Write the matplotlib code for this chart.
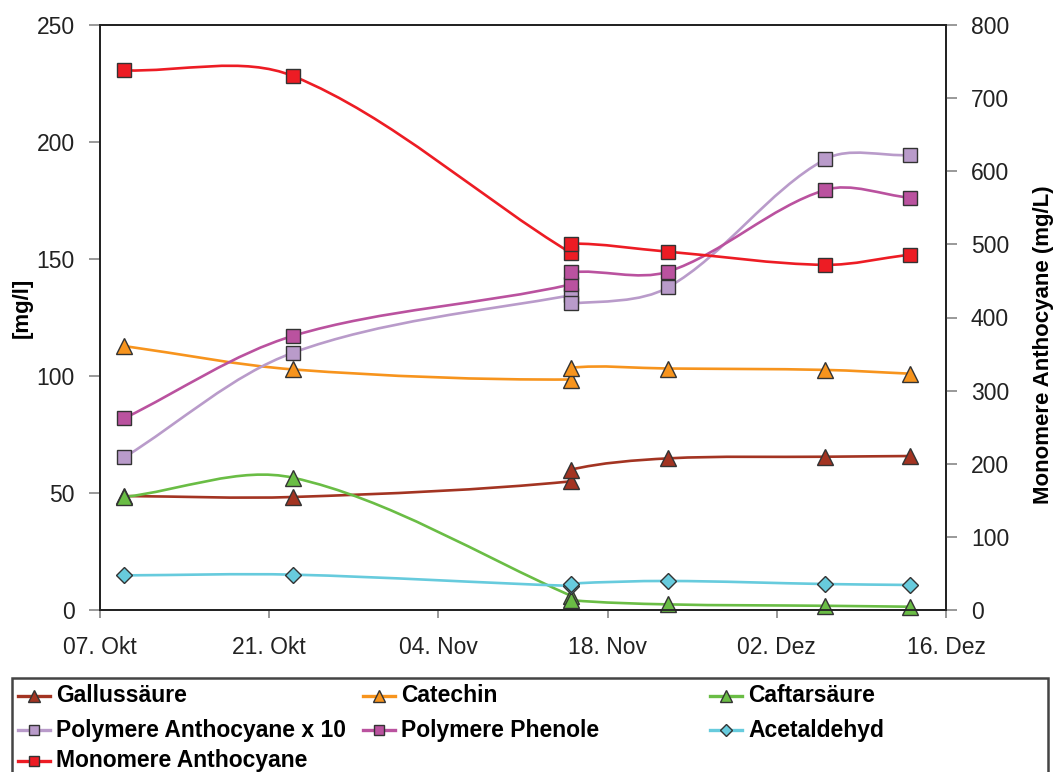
import numpy as np
import matplotlib
matplotlib.use("Agg")
import matplotlib.pyplot as plt
import matplotlib.dates as mdates
from matplotlib.path import Path
from matplotlib.patches import PathPatch, Rectangle
from matplotlib.lines import Line2D
import datetime as dt

plt.rcParams['font.family'] = ['Liberation Sans', 'DejaVu Sans']

# ------------------ Daten ------------------
dates = ["2008-10-09", "2008-10-23", "2008-11-15", "2008-11-15",
         "2008-11-23", "2008-12-06", "2008-12-13"]

gallussaeure = [48.7, 48.3, 55.0, 60.0, 64.8, 65.5, 65.8]
catechin = [112.8, 102.8, 98.5, 103.5, 103.2, 102.6, 101.0]
caftarsaeure = [48.3, 56.5, 6.0, 4.2, 2.4, 1.8, 1.4]
poly_antho_x10 = [65.2, 110.0, 134.5, 131.0, 137.9, 192.6, 194.4]
poly_phenole = [81.9, 117.2, 139.2, 144.3, 144.6, 179.5, 176.2]
acetaldehyd = [14.8, 15.1, 10.3, 11.3, 12.4, 11.1, 10.7]
monomere = [738, 730, 488, 501, 490, 472, 486]   # rechte Achse (mg/L)

xtick_dates = ["2008-10-07", "2008-10-21", "2008-11-04",
               "2008-11-18", "2008-12-02", "2008-12-16"]
xtick_labels = ["07. Okt", "21. Okt", "04. Nov", "18. Nov", "02. Dez", "16. Dez"]

series = [
    # name, values, color, marker, ms, right axis
    ("Gallussäure", gallussaeure, "#A33422", "^", 11, False),
    ("Catechin", catechin, "#F7941D", "^", 11, False),
    ("Caftarsäure", caftarsaeure, "#6ABD45", "^", 11, False),
    ("Polymere Anthocyane x 10", poly_antho_x10, "#B99BCA", "s", 9.5, False),
    ("Polymere Phenole", poly_phenole, "#BA529F", "s", 9.5, False),
    ("Acetaldehyd", acetaldehyd, "#67CBDD", "D", 8, False),
    ("Monomere Anthocyane", monomere, "#ED1C24", "s", 9.5, True),
]

x = mdates.date2num([dt.datetime.strptime(d, "%Y-%m-%d") for d in dates])
xt = mdates.date2num([dt.datetime.strptime(d, "%Y-%m-%d") for d in xtick_dates])

# ------------------ Figur ------------------
W, H = 1054, 772
fig = plt.figure(figsize=(W / 100, H / 100), dpi=100)
ax = fig.add_axes([100 / W, 1 - 610 / H, 846 / W, 585 / H])
ax2 = ax.twinx()

ax.set_xlim(xt[0], xt[-1])
ax.set_ylim(0, 250)
ax2.set_ylim(0, 800)
ax.set_yticks(np.arange(0, 251, 50))
ax2.set_yticks(np.arange(0, 801, 100))
ax.set_xticks(xt)
ax.set_xticklabels(xtick_labels)

for a in (ax, ax2):
    for s in a.spines.values():
        s.set_color("#222222")
        s.set_linewidth(1.3)
ax.tick_params(axis="y", length=8, width=1.2, color="#888888", pad=10,
               labelsize=16.5, labelcolor="#222222")
ax.tick_params(axis="x", length=6, width=1.2, color="#888888", pad=13,
               labelsize=16.5, labelcolor="#222222")
ax2.tick_params(axis="y", length=8, width=1.2, color="#888888", pad=10,
                labelsize=16.5, labelcolor="#222222")


def smooth_path(a, xs, ys):
    # geglaettete Linie wie in Excel (Bezier durch die Messpunkte)
    pts = np.column_stack([xs, ys]).astype(float)
    disp = a.transData.transform(pts)
    n = len(pts)
    verts = [pts[0]]
    codes = [Path.MOVETO]
    for i in range(n - 1):
        i0 = max(i - 1, 0)
        i3 = min(i + 2, n - 1)
        d01 = np.linalg.norm(disp[i] - disp[i0])
        d12 = np.linalg.norm(disp[i + 1] - disp[i])
        d23 = np.linalg.norm(disp[i3] - disp[i + 1])
        k1 = d12 / (d01 + d12) / 3 if d01 + d12 > 0 else 0
        k2 = d12 / (d12 + d23) / 3 if d12 + d23 > 0 else 0
        c1 = pts[i] + (pts[i + 1] - pts[i0]) * k1
        c2 = pts[i + 1] - (pts[i3] - pts[i]) * k2
        verts += [c1, c2, pts[i + 1]]
        codes += [Path.CURVE4] * 3
    return Path(verts, codes)


for name, vals, col, mk, ms, right in series:
    a = ax2 if right else ax
    a.add_patch(PathPatch(smooth_path(a, x, vals), fill=False,
                          edgecolor=col, lw=1.9, zorder=2))
    a.plot(x, vals, ls="none", marker=mk, ms=ms, mfc=col, mec="#333333",
           mew=1.0, zorder=3, clip_on=False)

fig.text(22 / W, 1 - 308 / H, "[mg/l]", rotation=90, fontsize=16,
         fontweight="bold", ha="center", va="center")
fig.text(1043 / W, 1 - 345 / H, "Monomere Anthocyane (mg/L)", rotation=90,
         fontsize=16, fontweight="bold", ha="center", va="center")

# ------------------ Legende ------------------
fig.add_artist(Rectangle((12 / W, -0.01), 1036 / W, 0.01 + (772 - 678) / H,
                         transform=fig.transFigure, fill=False,
                         edgecolor="#444444", lw=1.8))
col_x = [34, 379, 726]
row_y = [696, 730, 761]
for i, (name, vals, col, mk, ms, right) in enumerate(series):
    cx = col_x[i % 3]
    cy = 1 - row_y[i // 3] / H
    fig.add_artist(Line2D([(cx - 16) / W, (cx + 16) / W], [cy, cy],
                          transform=fig.transFigure, color=col, lw=2.4))
    fig.add_artist(Line2D([cx / W], [cy], transform=fig.transFigure,
                          marker=mk, ms=ms * 0.78, mfc=col, mec="#333333",
                          mew=1.0, ls="none"))
    fig.text((cx + 22) / W, cy, name, fontsize=16.5, fontweight="bold",
             ha="left", va="center")

fig.savefig("out.png", dpi=100)
